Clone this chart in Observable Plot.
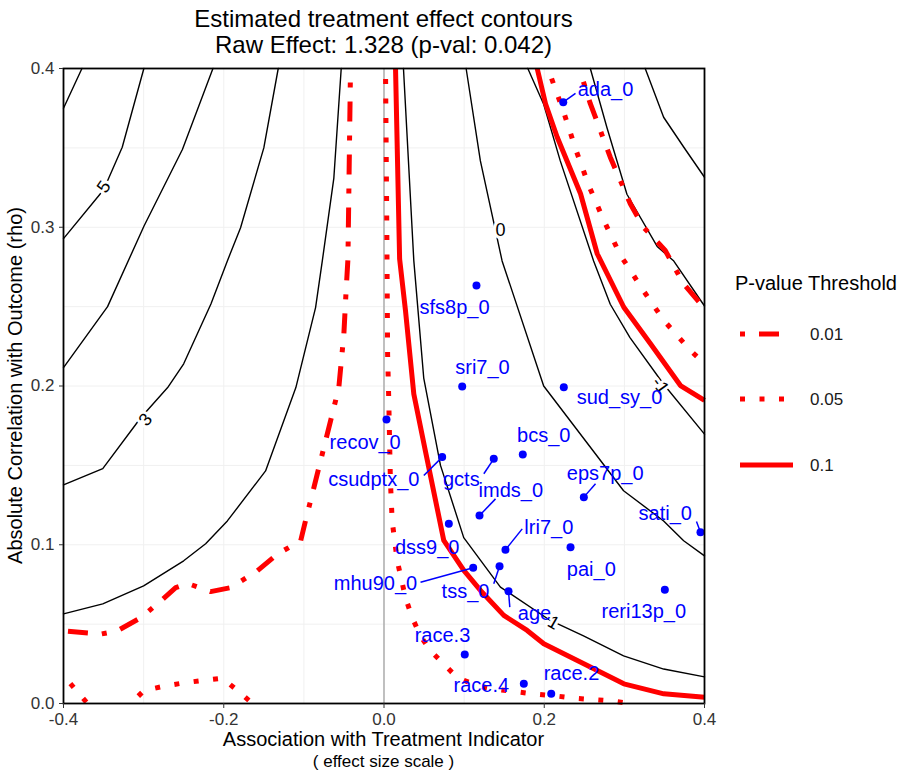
<!DOCTYPE html>
<html>
<head>
<meta charset="utf-8">
<script src="https://cdn.jsdelivr.net/npm/d3@7"></script>
<script src="https://cdn.jsdelivr.net/npm/@observablehq/plot@0.6"></script>
<style>
  body { margin: 0; background: #fff; }
  #chart svg { display: block; }
</style>
</head>
<body>
<div id="chart"></div>
<script>
// ---------- text ----------
const titleLine1 = "Estimated treatment effect contours";
const titleLine2 = "Raw Effect: 1.328 (p-val: 0.042)";
const xTitle = "Association with Treatment Indicator";
const xSubtitle = "( effect size scale )";
const yTitle = "Absolute Correlation with Outcome (rho)";
const legendTitle = "P-value Threshold";
const legendLabels = ["0.01", "0.05", "0.1"];

// ---------- ticks ----------
const xTicks = [-0.4, -0.2, 0.0, 0.2, 0.4];
const yTicks = [0.0, 0.1, 0.2, 0.3, 0.4];
const xGrid = [-0.3, -0.2, -0.1, 0.1, 0.2, 0.3];
const yGrid = [0.05, 0.1, 0.15, 0.2, 0.25, 0.3, 0.35];

// ---------- effect contours (level -> [x, y] points) ----------
const contour6 = [[-0.4,0.375],[-0.377,0.4]];
const contour5 = [[-0.4,0.2928],[-0.354,0.3211],[-0.3476,0.3263],[-0.3267,0.3504],[-0.2997,0.4]];
const contour4 = [[-0.4,0.2116],[-0.345,0.25],[-0.2995,0.3008],[-0.2516,0.349],[-0.2135,0.4]];
const contour3 = [[-0.4,0.1377],[-0.351,0.148],[-0.3036,0.18],[-0.270,0.199],[-0.250,0.214],[-0.216,0.2517],[-0.1955,0.2788],[-0.179,0.2997],[-0.150,0.350],[-0.132,0.4]];
const contour2 = [[-0.4,0.0565],[-0.351,0.0628],[-0.300,0.0741],[-0.250,0.0899],[-0.2226,0.1006],[-0.1955,0.115],[-0.1478,0.1465],[-0.110,0.199],[-0.0854,0.2494],[-0.077,0.2788],[-0.0626,0.331],[-0.0534,0.4]];
const contour1 = [[0.0243,0.4],[0.0372,0.279],[0.0496,0.205],[0.0705,0.150],[0.0995,0.1045],[0.1453,0.0733],[0.2076,0.0523],[0.249,0.0426],[0.299,0.030],[0.349,0.0217],[0.4,0.0168]];
const contour0 = [[0.1025,0.4],[0.1203,0.3418],[0.1474,0.2788],[0.1993,0.2],[0.299,0.134],[0.349,0.115],[0.374,0.1025],[0.4,0.093]];
const contourM1 = [[0.1795,0.4],[0.1993,0.3775],[0.22,0.3418],[0.2616,0.2788],[0.2824,0.2515],[0.307,0.2305],[0.349,0.2011],[0.4,0.1697]];
const contourM2 = [[0.2575,0.4],[0.2783,0.3627],[0.3032,0.3208],[0.3409,0.2879],[0.3617,0.2787],[0.4,0.2504]];
const contourM3 = [[0.326,0.4],[0.349,0.3693],[0.3742,0.3504],[0.4,0.3315]];
const contourLevels = [6, 5, 4, 3, 2, 1, 0, -1, -2, -3];
const contourPaths = [contour6, contour5, contour4, contour3, contour2, contour1, contour0, contourM1, contourM2, contourM3];

// contour labels
const contourLabelText = ["5", "3", "0", "1", "-1"];
const contourLabelX = [-0.3497, -0.2977, 0.1454, 0.2114, 0.345];
const contourLabelY = [0.3255, 0.1787, 0.298, 0.0508, 0.2003];
const contourLabelAngle = [-55, -50, 0, 30, 54];

// ---------- p-value threshold contours ----------
const p01Left = [[-0.0418,0.4],[-0.045,0.28],[-0.0475,0.258],[-0.0501,0.2326],[-0.0564,0.199],[-0.0667,0.178],[-0.0792,0.1528],[-0.0917,0.1276],[-0.098,0.115],[-0.104,0.1025],[-0.1332,0.0941],[-0.158,0.0836],[-0.1914,0.073],[-0.2164,0.0705],[-0.245,0.0756],[-0.26,0.073],[-0.2787,0.0646],[-0.3036,0.054],[-0.3327,0.0458],[-0.3535,0.0437],[-0.4,0.0458]];
const p01Right = [[0.2435,0.4],[0.2471,0.3945],[0.2575,0.3778],[0.27,0.361],[0.2824,0.3441],[0.2949,0.3295],[0.3074,0.3148],[0.324,0.3],[0.351,0.2854],[0.3738,0.2644],[0.4,0.2488]];
const p05Center = [[0.0019,0.4],[0.0035,0.3],[0.0045,0.22],[0.006,0.19],[0.008,0.14],[0.0102,0.115],[0.0165,0.09],[0.0268,0.0667],[0.0352,0.0541],[0.0455,0.0426],[0.058,0.0332],[0.0746,0.0248],[0.0912,0.0164],[0.1162,0.0112],[0.137,0.0091],[0.162,0.0076],[0.187,0.006],[0.212,0.0049],[0.237,0.0034],[0.262,0.0024],[0.282,0.0017],[0.307,0]];
const p05Right = [[0.2053,0.4],[0.2078,0.3956],[0.2243,0.3725],[0.2389,0.3496],[0.2556,0.3263],[0.2743,0.3043],[0.2952,0.2822],[0.3076,0.2728],[0.3222,0.2612],[0.3492,0.2413],[0.3825,0.2224],[0.4,0.214]];
const p05BottomA = [[-0.4,0.0175],[-0.37,0]];
const p05BottomB = [[-0.316,0],[-0.2995,0.0082],[-0.2746,0.0109],[-0.2496,0.013],[-0.2267,0.0145],[-0.2017,0.0159],[-0.183,0.0082],[-0.1643,0]];
const p10Center = [[0.0144,0.4],[0.0195,0.28],[0.0268,0.2476],[0.0372,0.195],[0.0525,0.157],[0.0746,0.1027],[0.0996,0.0838],[0.1204,0.0712],[0.1495,0.0555],[0.1787,0.046],[0.1994,0.0376],[0.2494,0.025],[0.2993,0.0124],[0.3492,0.0061],[0.4,0.004]];
const p10Right = [[0.1912,0.4],[0.2016,0.3778],[0.2162,0.3567],[0.2453,0.3211],[0.2661,0.2833],[0.2993,0.2496],[0.3326,0.2266],[0.37,0.2003],[0.4,0.1909]];

// ---------- covariates ----------
const covNames = ["ada_0","sfs8p_0","sri7_0","sud_sy_0","recov_0","csudptx_0","gcts","bcs_0","imds_0","eps7p_0","sati_0","dss9_0","lri7_0","pai_0","mhu90_0","tss_0","age","reri13p_0","race.3","race.4","race.2"];
const covX = [0.2237,0.1154,0.0976,0.2244,0.0031,0.0726,0.137,0.1732,0.1192,0.2494,0.395,0.0809,0.1516,0.2328,0.1113,0.1442,0.1554,0.3505,0.1008,0.1745,0.2087];
const covY = [0.3788,0.2633,0.1997,0.1992,0.1789,0.1552,0.1541,0.1569,0.1184,0.13,0.1079,0.1132,0.0968,0.0985,0.0855,0.0865,0.0707,0.0716,0.0309,0.0124,0.0061];
const covLabelX = [0.2764,0.088,0.1229,0.2939,-0.0235,-0.0127,0.0965,0.1994,0.1583,0.2761,0.351,0.0539,0.2057,0.2587,-0.0106,0.1017,0.1878,0.3242,0.073,0.1214,0.234];
const covLabelY = [0.3868,0.2494,0.2118,0.1926,0.1646,0.1409,0.1409,0.1688,0.1342,0.1447,0.1195,0.0985,0.1111,0.0844,0.0754,0.0706,0.0567,0.0581,0.0426,0.0111,0.0187];
// leader segment ends (null = no leader)
const leaderEndX = [0.239,null,null,null,null,0.0497,0.1246,null,0.1392,0.264,0.39,null,0.1725,null,0.0456,0.137,0.157,null,null,null,null];
const leaderEndY = [0.3843,null,null,null,null,0.1436,0.1447,null,0.1289,0.1384,0.1146,null,0.11,null,0.0764,0.0754,0.0607,null,null,null,null];

// ---------- build tables ----------
const contourRows = contourPaths.flatMap((pts, i) => pts.map(([x, y]) => ({level: contourLevels[i], x, y})));
const toRows = (paths) => paths.flatMap((pts, i) => pts.map(([x, y]) => ({id: i, x, y})));
const p01Rows = toRows([p01Left, p01Right]);
const p05Rows = toRows([p05Center, p05Right, p05BottomA, p05BottomB]);
const p10Rows = toRows([p10Center, p10Right]);
const contourLabels = contourLabelText.map((t, i) => ({t, x: contourLabelX[i], y: contourLabelY[i], a: contourLabelAngle[i]}));
const covs = covNames.map((name, i) => ({name, x: covX[i], y: covY[i], lx: covLabelX[i], ly: covLabelY[i], ex: leaderEndX[i], ey: leaderEndY[i]}));
const leaders = covs.filter(d => d.ex !== null);

const fmt = d => d.toFixed(1);
const FONT = "'Liberation Sans', Arial, Helvetica, sans-serif";
const DASH_01 = "5,14,20,14";
const DASH_05 = "5,14.5";
const RED = "#ff0000";
const RW = 5;

const plot = Plot.plot({
  width: 901,
  height: 771,
  marginTop: 68,
  marginBottom: 68,
  marginLeft: 63,
  marginRight: 197,
  style: {fontFamily: FONT, background: "white", overflow: "visible"},
  x: {domain: [-0.4, 0.4]},
  y: {domain: [0, 0.4]},
  marks: [
    Plot.gridX(xGrid, {stroke: "#f0f0f0", strokeOpacity: 1, strokeWidth: 1}),
    Plot.gridY(yGrid, {stroke: "#f0f0f0", strokeOpacity: 1, strokeWidth: 1}),
    Plot.ruleX([0], {stroke: "#b0b0b0", strokeWidth: 1.6}),
    Plot.line(contourRows, {x: "x", y: "y", z: "level", stroke: "black", strokeWidth: 1.4, curve: "linear"}),
    Plot.text(contourLabels, {x: "x", y: "y", text: "t", rotate: "a", fontSize: 18, fill: "black", stroke: "white", strokeWidth: 6, paintOrder: "stroke"}),
    Plot.line(p10Rows, {x: "x", y: "y", z: "id", stroke: RED, strokeWidth: RW, strokeLinecap: "butt"}),
    Plot.line(p05Rows, {x: "x", y: "y", z: "id", stroke: RED, strokeWidth: RW, strokeLinecap: "butt", strokeDasharray: DASH_05, strokeDashoffset: 9}),
    Plot.line(p01Rows, {x: "x", y: "y", z: "id", stroke: RED, strokeWidth: RW, strokeLinecap: "butt", strokeDasharray: DASH_01, strokeDashoffset: 39}),
    Plot.link(leaders, {x1: "x", y1: "y", x2: "ex", y2: "ey", stroke: "blue", strokeWidth: 1.5}),
    Plot.dot(covs, {x: "x", y: "y", r: 4, fill: "blue", stroke: null}),
    Plot.text(covs, {x: "lx", y: "ly", text: "name", fill: "blue", fontSize: 20}),
    Plot.frame({stroke: "black", strokeWidth: 1.8}),
    Plot.axisX({ticks: xTicks, tickFormat: fmt, tickSize: 5, tickPadding: 4, fontSize: 17, color: "#333", label: null}),
    Plot.axisY({ticks: yTicks, tickFormat: fmt, tickSize: 4, tickPadding: 5, fontSize: 17, color: "#333", label: null})
  ]
});

document.getElementById("chart").appendChild(plot);

// ---------- titles, axis titles and legend ----------
const svg = d3.select(plot);
const panelCx = 383.5;
const addText = (x, y, txt, size, opts = {}) => {
  const t = svg.append("text")
    .attr("x", x).attr("y", y)
    .attr("font-family", FONT)
    .attr("font-size", size)
    .attr("fill", opts.fill || "black")
    .attr("text-anchor", opts.anchor || "middle")
    .text(txt);
  if (opts.transform) t.attr("transform", opts.transform).attr("x", 0).attr("y", 0);
  return t;
};
addText(panelCx, 27, titleLine1, 24);
addText(panelCx, 53, titleLine2, 24);
addText(panelCx, 746, xTitle, 20);
addText(panelCx, 767, xSubtitle, 17);
addText(0, 0, yTitle, 20, {transform: "translate(22,385.5) rotate(-90)"});

// legend
addText(735, 290, legendTitle, 20, {anchor: "start"});
const legendY = [334, 399, 465];
const legendDash = [DASH_01, DASH_05, null];
legendLabels.forEach((lab, i) => {
  const ln = svg.append("line")
    .attr("x1", 740).attr("x2", 793)
    .attr("y1", legendY[i]).attr("y2", legendY[i])
    .attr("stroke", RED).attr("stroke-width", RW)
    .attr("stroke-linecap", "butt");
  if (legendDash[i]) ln.attr("stroke-dasharray", legendDash[i]);
  addText(810, legendY[i] + 6, lab, 17, {anchor: "start", fill: "#1a1a1a"});
});
</script>
</body>
</html>
